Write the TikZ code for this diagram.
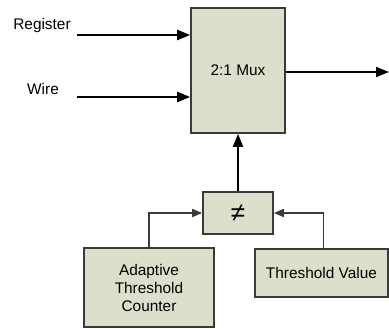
\documentclass[tikz,border=0pt]{standalone}
\usepackage{fontspec}
\setmainfont{Liberation Sans}
\usetikzlibrary{arrows.meta}
\definecolor{boxfill}{HTML}{DCDFCB}
\definecolor{boxline}{HTML}{3A3A3A}
\tikzset{
  blk/.style={draw=boxline, fill=boxfill, line width=1.6pt, inner sep=0pt, align=center},
  bigarr/.style={line width=2pt, -{Triangle[length=13pt,width=10pt]}},
  smallarr/.style={draw=boxline, line width=1.6pt, -{Triangle[length=10pt,width=8pt]}},
  lbl/.style={inner sep=0pt, font=\fontsize{15.4}{18}\selectfont}
}
\begin{document}
\begin{tikzpicture}[x=1pt,y=-1pt]
\useasboundingbox (0,0) rectangle (389,329);
\node[blk, minimum width=94pt, minimum height=125pt, font=\fontsize{15.4}{18}\selectfont] (mux) at (238,70.5) {2:1 Mux};
\node[blk, minimum width=70pt, minimum height=42pt, font=\fontsize{26}{26}\selectfont] (neq) at (238,213) {≠};
\node[blk, minimum width=130pt, minimum height=79pt, font=\fontsize{15.4}{18}\selectfont] (atc) at (149,287.5) {Adaptive\\Threshold\\Counter};
\node[blk, minimum width=133pt, minimum height=48pt, font=\fontsize{15.4}{18}\selectfont] (tv) at (321.5,273) {Threshold Value};
\node[lbl] (reg) at (42,26) {Register};
\node[lbl] (wire) at (43,89) {Wire};
\coordinate (regs) at (77,35);
\coordinate (wires) at (77,97);
\coordinate (out) at (389,72);
\draw[bigarr] (regs) -- (regs -| mux.west);
\draw[bigarr] (wires) -- (wires -| mux.west);
\draw[bigarr] (out -| mux.east) -- (out);
\draw[bigarr] (neq.north) -- (mux.south);
\draw[smallarr] (atc.north) |- (neq.west);
\draw[smallarr] ([xshift=2pt]tv.north) |- (neq.east);
\end{tikzpicture}
\end{document}
